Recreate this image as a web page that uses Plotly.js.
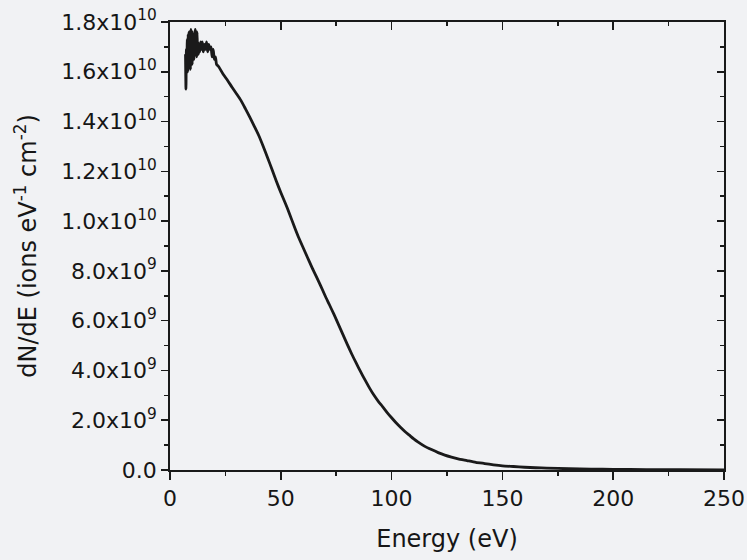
<!DOCTYPE html>
<html>
<head>
<meta charset="utf-8">
<script src="https://cdn.plot.ly/plotly-3.0.1.min.js"></script>
<style>
  html, body { margin: 0; padding: 0; background: #f1f2f4; }
  #chart { width: 747px; height: 560px; }
</style>
</head>
<body>
<div id="chart"></div>
<script>
// Ion energy distribution: dN/dE versus energy
const energy_eV = [
  7.0, 7.2, 7.4, 7.6, 7.8, 8.0, 8.2, 8.4, 8.6, 8.8,
  9.0, 9.2, 9.4, 9.6, 9.8, 10.0, 10.2, 10.4, 10.6, 10.8,
  11.0, 11.2, 11.4, 11.6, 11.8, 12.0, 12.2, 12.4, 12.6, 12.8,
  13.0, 13.4, 13.8, 14.2, 14.6, 15.0, 15.5, 16.0, 16.5, 17.0,
  17.5, 18.0, 18.5, 19.0, 19.5, 20.0, 20.5, 21.0, 22, 24,
  26, 28, 30, 32, 34, 36, 38, 40, 42, 44,
  46, 48, 50, 52, 54, 56, 58, 60, 62, 64,
  66, 68, 70, 72, 74, 76, 78, 80, 82, 84,
  86, 88, 90, 92, 94, 96, 98, 100, 102, 104,
  106, 108, 110, 112, 115, 118, 121, 124, 127, 130,
  134, 138, 142, 146, 150, 155, 160, 165, 170, 180,
  190, 200, 215, 230, 250
];

// dN/dE in units of 10^9 ions eV^-1 cm^-2
const dNdE_e9 = [
  16.7, 15.3, 16.9, 16.2, 17.3, 16.0, 17.5, 16.4, 17.6, 16.6,
  17.2, 16.1, 17.7, 16.8, 17.4, 16.3, 17.6, 16.9, 17.5, 16.5,
  17.4, 16.7, 17.7, 16.8, 17.3, 16.6, 17.6, 16.9, 17.2, 16.7,
  17.1, 16.8, 17.2, 16.9, 17.2, 16.8, 17.1, 16.9, 17.2, 16.8,
  17.1, 16.9, 17.0, 16.6, 16.9, 16.5, 16.6, 16.3, 16.2, 15.9,
  15.65, 15.38, 15.12, 14.85, 14.52, 14.18, 13.82, 13.45, 13.02, 12.56,
  12.08, 11.6, 11.15, 10.73, 10.28, 9.8, 9.35, 8.95, 8.55, 8.15,
  7.78, 7.4, 7.0, 6.63, 6.25, 5.85, 5.45, 5.05, 4.66, 4.3,
  3.95, 3.62, 3.3, 3.01, 2.76, 2.54, 2.31, 2.1, 1.9, 1.72,
  1.55, 1.4, 1.25, 1.12, 0.95, 0.82, 0.7, 0.6, 0.52, 0.45,
  0.38, 0.31, 0.26, 0.21, 0.17, 0.14, 0.11, 0.09, 0.075, 0.05,
  0.035, 0.025, 0.015, 0.01, 0.006
];

const yTickVals = [0, 2e9, 4e9, 6e9, 8e9, 1.0e10, 1.2e10, 1.4e10, 1.6e10, 1.8e10];
const yTickText = [
  '0.0',
  '2.0x10<sup>9</sup>', '4.0x10<sup>9</sup>', '6.0x10<sup>9</sup>', '8.0x10<sup>9</sup>',
  '1.0x10<sup>10</sup>', '1.2x10<sup>10</sup>', '1.4x10<sup>10</sup>',
  '1.6x10<sup>10</sup>', '1.8x10<sup>10</sup>'
];
const xTickVals = [0, 50, 100, 150, 200, 250];

const ink = '#1a1a1a';
const txt = '#161616';
const FONT = 'DejaVu Sans';

const traces = [
  {
    x: energy_eV,
    y: dNdE_e9.map(v => v * 1e9),
    type: 'scatter',
    mode: 'lines',
    line: { color: ink, width: 2.8, shape: 'spline', smoothing: 0.6 },
    xaxis: 'x', yaxis: 'y',
    hoverinfo: 'skip'
  },
  // empty trace so the mirrored top/right axes are laid out
  { x: [], y: [], type: 'scatter', mode: 'lines', xaxis: 'x2', yaxis: 'y2', hoverinfo: 'skip', showlegend: false }
];

const layout = {
  width: 747,
  height: 560,
  paper_bgcolor: '#f1f2f4',
  plot_bgcolor: 'rgba(0,0,0,0)',
  showlegend: false,
  margin: { l: 170, r: 23, t: 22, b: 90 },
  font: { family: FONT, color: txt },
  xaxis: {
    range: [0, 250],
    tickvals: xTickVals,
    ticktext: xTickVals.map(String),
    ticks: 'outside', ticklen: 8, tickwidth: 1.6, tickcolor: ink,
    minor: { ticks: 'outside', ticklen: 4, tickwidth: 1.6, tickcolor: ink, dtick: 25, tick0: 0, showgrid: false },
    showline: true, linecolor: ink, linewidth: 1.8,
    showgrid: false, zeroline: false,
    tickfont: { size: 22, family: FONT, color: txt },
    title: { text: 'Energy (eV)', font: { size: 24, family: FONT, color: txt }, standoff: 20 },
    automargin: false
  },
  yaxis: {
    range: [0, 1.8e10],
    tickvals: yTickVals,
    ticktext: yTickText,
    ticks: 'outside', ticklen: 7, tickwidth: 1.6, tickcolor: ink,
    minor: { ticks: 'outside', ticklen: 4, tickwidth: 1.6, tickcolor: ink, dtick: 1e9, tick0: 0, showgrid: false },
    showline: true, linecolor: ink, linewidth: 1.8,
    showgrid: false, zeroline: false,
    tickfont: { size: 22, family: FONT, color: txt },
    title: { text: 'dN/dE (ions eV<sup>-1</sup> cm<sup>-2</sup>)', font: { size: 24, family: FONT, color: txt }, standoff: 18 },
    automargin: false
  },
  xaxis2: {
    overlaying: 'x', side: 'top', anchor: 'y2',
    range: [0, 250],
    tickvals: xTickVals, showticklabels: false,
    ticks: 'inside', ticklen: 8, tickwidth: 1.6, tickcolor: ink,
    minor: { ticks: 'inside', ticklen: 4, tickwidth: 1.6, tickcolor: ink, dtick: 25, tick0: 0, showgrid: false },
    showline: true, linecolor: ink, linewidth: 1.8,
    showgrid: false, zeroline: false
  },
  yaxis2: {
    overlaying: 'y', side: 'right', anchor: 'x2',
    range: [0, 1.8e10],
    tickvals: yTickVals, showticklabels: false,
    ticks: 'inside', ticklen: 7, tickwidth: 1.6, tickcolor: ink,
    minor: { ticks: 'inside', ticklen: 4, tickwidth: 1.6, tickcolor: ink, dtick: 1e9, tick0: 0, showgrid: false },
    showline: true, linecolor: ink, linewidth: 1.8,
    showgrid: false, zeroline: false
  }
};

Plotly.newPlot('chart', traces, layout, { displayModeBar: false, staticPlot: true });
</script>
</body>
</html>
